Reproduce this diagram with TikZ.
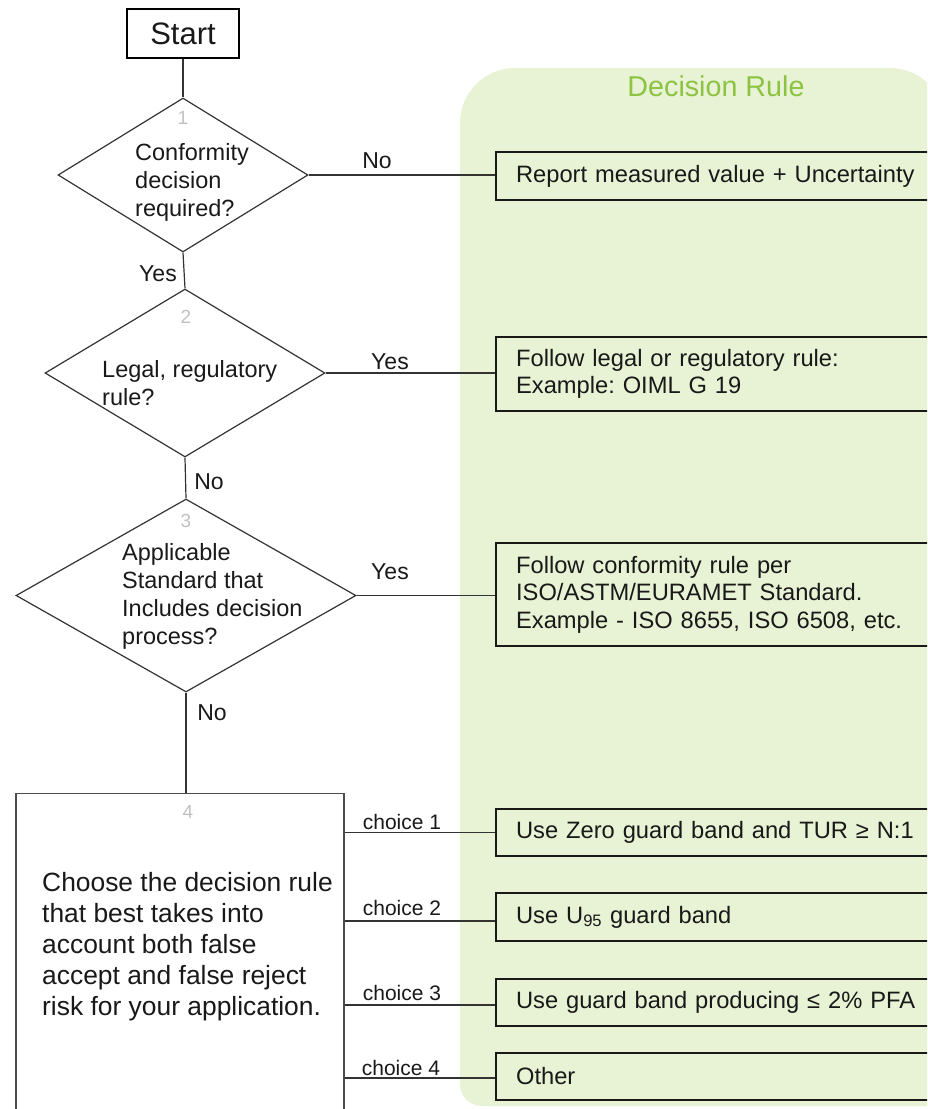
\documentclass[tikz,border=0pt]{standalone}
\usepackage{fontspec}
\setmainfont{Liberation Sans}
\usetikzlibrary{shapes.geometric}
\definecolor{panelgreen}{RGB}{232,242,212}
\definecolor{titlegreen}{RGB}{141,195,66}
\definecolor{numgray}{RGB}{192,192,192}
\definecolor{linegray}{RGB}{51,51,51}
\frenchspacing

\begin{document}
\begin{tikzpicture}[x=1pt,y=-1pt,
  every node/.style={text=black!90},
  conn/.style={draw=linegray, line width=1.2pt},
  decision/.style={diamond, draw=linegray, line width=1.2pt, inner sep=0pt},
  qtext/.style={align=left, anchor=west, inner sep=0pt, font=\fontsize{23.5}{28}\selectfont},
  stepnum/.style={text=numgray, inner sep=0pt, font=\fontsize{19}{19}\selectfont},
  edgelabel/.style={inner sep=0pt, font=\fontsize{23}{23}\selectfont},
  choicelabel/.style={inner sep=0pt, font=\fontsize{21}{21}\selectfont},
  rulebox/.style={draw=black!90, line width=2.2pt, anchor=west, minimum width=480,
    inner xsep=20pt, inner ysep=0pt, text width=440, align=left,
    font=\fontsize{23.7}{27.5}\selectfont},
]
\useasboundingbox (0,0) rectangle (927,1109);
\clip (0,0) rectangle (927,1109);

% shaded panel behind the decision rules
\fill[panelgreen, rounded corners=55] (460,68) rectangle (945,700);
\fill[panelgreen, rounded corners=22] (460,600) rectangle (1010,1106);
\node[text=titlegreen, inner sep=0pt, font=\fontsize{28.7}{28.7}\selectfont] (title) at (716,86) {Decision Rule};

% flow chart
\node[draw=black, line width=1.4pt, minimum width=112, minimum height=49, inner sep=0pt,
  font=\fontsize{31}{31}\selectfont] (start) at (183,33.5) {Start};

\node[decision, minimum width=250, minimum height=154] (d1) at (183,175) {};
\node[decision, minimum width=280, minimum height=168] (d2) at (185,373) {};
\node[decision, minimum width=340, minimum height=193] (d3) at (186,595.5) {};

\node[stepnum] (n1) at (183,118) {1};
\node[stepnum] (n2) at (186,317) {2};
\node[stepnum] (n3) at (186,521) {3};

\node[qtext] (q1) at (135,182) {Conformity\\decision\\required?};
\node[qtext] (q2) at (102,383) {Legal, regulatory\\rule?};
\node[qtext] (q3) at (122,596) {Applicable\\Standard that\\Includes decision\\process?};

\node[draw=black!70, line width=1.4pt, minimum width=328, minimum height=360, inner sep=0pt,
  anchor=north] (box4) at (180,793) {};
\node[stepnum] (n4) at (188,812) {4};
\node[align=left, anchor=west, inner sep=0pt, font=\fontsize{26.4}{31}\selectfont] (box4text)
  at (42,947) {Choose the decision rule\\that best takes into\\account both false\\accept and false reject\\risk for your application.};

% decision rules
\node[rulebox, minimum height=48] (r1) at (495,176) {Report measured value + Uncertainty};
\node[rulebox, minimum height=74] (r2) at (495,374) {Follow legal or regulatory rule:\\Example: OIML G 19};
\node[rulebox, minimum height=103] (r3) at (495,594.5) {Follow conformity rule per\\ISO/ASTM/EURAMET Standard.\\Example - ISO 8655, ISO 6508, etc.};
\node[rulebox, minimum height=47] (c1) at (495,832.5) {Use Zero guard band and TUR ≥ N:1};
\node[rulebox, minimum height=48] (c2) at (495,917) {Use U\textsubscript{95} guard band};
\node[rulebox, minimum height=47] (c3) at (495,1002.5) {Use guard band producing ≤ 2\% PFA};
\node[rulebox, minimum height=47] (c4) at (495,1076.5) {Other};

% connectors
\draw[conn] (start.south) -- (d1.north);
\draw[conn] (d1.east) -- (d1.east -| r1.west);
\draw[conn] (d1.south) -- (d2.north);
\draw[conn] (d2.east) -- (d2.east -| r2.west);
\draw[conn] (d2.south) -- (d3.north);
\draw[conn] (d3.east) -- (d3.east -| r3.west);
\draw[conn] (d3.south) -- (d3.south |- box4.north);

\coordinate (c1in) at (c1.west);
\coordinate (c2in) at ([yshift=-4pt]c2.west);
\coordinate (c3in) at ([yshift=-2.5pt]c3.west);
\coordinate (c4in) at ([yshift=-1.5pt]c4.west);
\draw[conn] (box4.east |- c1in) -- (c1in);
\draw[conn] (box4.east |- c2in) -- (c2in);
\draw[conn] (box4.east |- c3in) -- (c3in);
\draw[conn] (box4.east |- c4in) -- (c4in);

% connector labels
\node[edgelabel] (lno1) at (377,161) {No};
\node[edgelabel] (lyes1) at (158,274) {Yes};
\node[edgelabel] (lyes2) at (390,362) {Yes};
\node[edgelabel] (lno2) at (209,482) {No};
\node[edgelabel] (lyes3) at (390,572) {Yes};
\node[edgelabel] (lno3) at (212,713) {No};

\node[choicelabel] (ch1) at (402,822) {choice 1};
\node[choicelabel] (ch2) at (402,908) {choice 2};
\node[choicelabel] (ch3) at (402,993) {choice 3};
\node[choicelabel] (ch4) at (401,1068) {choice 4};
\end{tikzpicture}
\end{document}
